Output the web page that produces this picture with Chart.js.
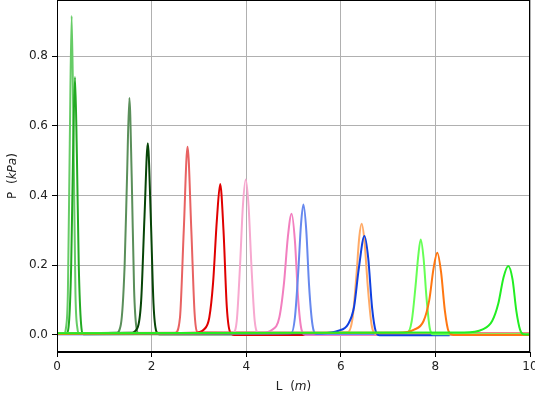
<!DOCTYPE html>
<html>
<head>
<meta charset="utf-8">
<script src="https://cdn.jsdelivr.net/npm/chart.js@4"></script>
<style>
  html, body { margin: 0; padding: 0; background: #fff; }
  #wrap { width: 535px; height: 400px; }
</style>
</head>
<body>
<div id="wrap"><canvas id="chart" width="535" height="400"></canvas></div>
<script>
// --- 資料 (讀自參考圖) ---
const xTicks = [0, 2, 4, 6, 8, 10];
const yTicks = [0, 0.2, 0.4, 0.6, 0.8];

const peak1 = [[0,0.004],[0.15,0.004],[0.19,0.02],[0.23,0.12],[0.27,0.55],[0.31,0.915],[0.35,0.55],[0.39,0.12],[0.43,0.02],[0.47,0.003],[10,0.003]];
const peak2 = [[0,0.004],[0.2,0.005],[0.25,0.03],[0.3,0.2],[0.34,0.52],[0.38,0.74],[0.42,0.52],[0.46,0.2],[0.51,0.03],[0.56,0.002],[10,0.002]];
const peak3 = [[0,0.004],[1.25,0.006],[1.35,0.03],[1.43,0.2],[1.48,0.45],[1.53,0.68],[1.58,0.45],[1.63,0.13],[1.68,0.02],[1.73,0.003],[10,0.003]];
const peak4 = [[0,0.004],[1.55,0.006],[1.7,0.02],[1.78,0.1],[1.85,0.34],[1.92,0.55],[1.98,0.35],[2.04,0.09],[2.1,0.01],[2.16,0.002],[10,0.002]];
const peak5 = [[0,0.005],[2.5,0.006],[2.6,0.05],[2.68,0.3],[2.76,0.54],[2.84,0.3],[2.91,0.06],[2.98,0.008],[10,0.005]];
const peak6 = [[0,0.003],[2.9,0.006],[3.1,0.015],[3.22,0.05],[3.3,0.15],[3.38,0.33],[3.45,0.433],[3.52,0.3],[3.59,0.08],[3.66,0.008],[3.75,0],[10,0]];
const peak7 = [[0,0.004],[3.72,0.006],[3.8,0.04],[3.87,0.2],[3.93,0.37],[3.99,0.446],[4.05,0.37],[4.11,0.2],[4.18,0.04],[4.26,0.006],[10,0.003]];
const peak8 = [[0,0.003],[4.3,0.006],[4.55,0.015],[4.7,0.05],[4.8,0.15],[4.88,0.28],[4.96,0.348],[5.03,0.27],[5.1,0.1],[5.17,0.015],[5.25,0],[10,0]];
const peak9 = [[0,0.003],[4.95,0.005],[5.03,0.05],[5.1,0.18],[5.16,0.32],[5.21,0.374],[5.27,0.3],[5.33,0.14],[5.4,0.03],[5.48,0.003],[10,0.003]];
const peak10 = [[0,0.003],[6.15,0.008],[6.25,0.05],[6.33,0.17],[6.39,0.28],[6.44,0.319],[6.5,0.27],[6.57,0.14],[6.65,0.03],[6.75,0.003],[10,0.003]];
const peak11 = [[0,0.002],[5.6,0.005],[5.95,0.012],[6.15,0.03],[6.28,0.08],[6.38,0.19],[6.5,0.284],[6.58,0.22],[6.66,0.08],[6.74,0.01],[6.82,-0.001],[8.3,-0.001]];
const peak12 = [[0,0.004],[7.4,0.006],[7.5,0.04],[7.58,0.14],[7.64,0.23],[7.69,0.274],[7.75,0.22],[7.81,0.11],[7.88,0.02],[7.95,0.002],[10,0.002]];
const peak13 = [[0,0.003],[7.2,0.006],[7.55,0.015],[7.75,0.04],[7.87,0.1],[7.96,0.19],[8.04,0.236],[8.12,0.18],[8.2,0.07],[8.28,0.01],[8.38,0],[10,0]];
const peak14 = [[0,0.005],[8.6,0.007],[9.0,0.016],[9.2,0.04],[9.33,0.09],[9.44,0.165],[9.54,0.198],[9.63,0.16],[9.71,0.07],[9.79,0.015],[9.86,0.002],[10,0.001]];

const allPeaks = [peak1, peak2, peak3, peak4, peak5, peak6, peak7, peak8, peak9, peak10, peak11, peak12, peak13, peak14];
const peakColors = ['#66cc66', '#22aa22', '#5a8f5a', '#074507', '#e86262', '#e00000', '#f7a8cf',
                    '#f27fbf', '#6688ee', '#ffaa66', '#1040e0', '#66ff55', '#ff7711', '#22ee22'];

const FONT = "'DejaVu Sans', sans-serif";

// --- 外框與軸標題 ---
const framePlugin = {
    id: 'frame',
    afterDraw(chart) {
        const { ctx, chartArea: a } = chart;
        ctx.save();
        ctx.strokeStyle = '#000';
        ctx.lineWidth = 1;
        ctx.strokeRect(a.left + 0.5, a.top + 0.5, a.right - a.left - 1, a.bottom - a.top - 1);

        ctx.fillStyle = '#222';
        ctx.textBaseline = 'middle';
        // x 軸標題: L  (m)
        drawMixed(ctx, [['L  (', false], ['m', true], [')', false]], (a.left + a.right) / 2, 387);
        // y 軸標題: P  (kPa)
        ctx.translate(13, (a.top + a.bottom) / 2);
        ctx.rotate(-Math.PI / 2);
        drawMixed(ctx, [['P  (', false], ['kPa', true], [')', false]], 0, 0);
        ctx.restore();
    }
};

function drawMixed(ctx, parts, cx, cy) {
    const widths = parts.map(([t, it]) => {
        ctx.font = (it ? 'italic ' : '') + '12px ' + FONT;
        return ctx.measureText(t).width;
    });
    let x = cx - widths.reduce((s, w) => s + w, 0) / 2;
    ctx.textAlign = 'left';
    parts.forEach(([t, it], i) => {
        ctx.font = (it ? 'italic ' : '') + '12px ' + FONT;
        ctx.fillText(t, x, cy);
        x += widths[i];
    });
}

new Chart(document.getElementById('chart'), {
    type: 'line',
    data: {
        datasets: allPeaks.map((p, i) => ({
            data: p.map(([x, y]) => ({ x, y })),
            borderColor: peakColors[i],
            borderWidth: 2,
            pointRadius: 0,
            fill: false,
            cubicInterpolationMode: 'monotone',
            order: allPeaks.length - i
        }))
    },
    options: {
        responsive: false,
        animation: false,
        layout: { padding: { left: 0, right: 5, top: 0, bottom: 0 } },
        plugins: { legend: { display: false }, tooltip: { enabled: false } },
        scales: {
            x: {
                type: 'linear',
                min: 0,
                max: 10,
                afterBuildTicks: s => { s.ticks = xTicks.map(v => ({ value: v })); },
                afterFit: s => { s.height = 48; s.paddingLeft = 0; s.paddingRight = 0; },
                grid: { color: '#b0b0b0', tickColor: '#000', tickLength: 5 },
                border: { color: '#000' },
                ticks: { color: '#222', font: { family: FONT, size: 12 }, padding: 3, maxRotation: 0 }
            },
            y: {
                min: -0.049,
                max: 0.961,
                afterBuildTicks: s => { s.ticks = yTicks.map(v => ({ value: v })); },
                afterFit: s => { s.width = 57; s.paddingTop = 0; s.paddingBottom = 0; },
                grid: { color: '#b0b0b0', tickColor: '#000', tickLength: 5 },
                border: { color: '#000' },
                ticks: { color: '#222', font: { family: FONT, size: 12 }, padding: 4,
                         callback: v => v.toFixed(1) }
            }
        }
    },
    plugins: [framePlugin]
});
</script>
</body>
</html>
